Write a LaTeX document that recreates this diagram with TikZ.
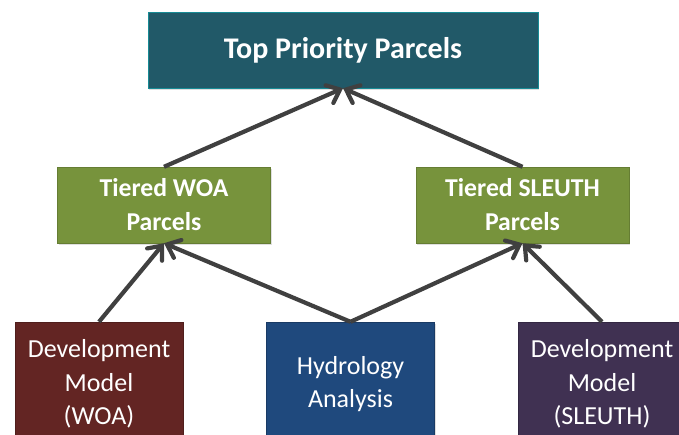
\documentclass[tikz,border=0pt]{standalone}
\usepackage{fontspec}
\setmainfont{Carlito}
\usepackage{tikz}
\usetikzlibrary{
  arrows.meta,
  shadows
}
\usepackage{xcolor}
\definecolor{fillTop}{RGB}{33, 89, 104}
\definecolor{fillTier}{RGB}{119, 147, 60}
\definecolor{fillDevW}{RGB}{99, 37, 35}
\definecolor{fillHydro}{RGB}{31, 73, 125}
\definecolor{fillDevS}{RGB}{64, 49, 82}
\definecolor{arrowclr}{RGB}{64, 64, 64}
\tikzset{
  % Boxes
  boxbase/.style   = {rectangle, text=white, align=center, inner sep=0pt,
                      drop shadow={shadow xshift=1pt, shadow yshift=-1.5pt, opacity=0.25}},
  topbox/.style    = {boxbase, fill=fillTop, draw=fillTop!70!cyan, thin,
                      minimum width=390pt, minimum height=76pt,
                      font=\fontsize{30}{34}\selectfont\bfseries},
  tierbox/.style   = {boxbase, fill=fillTier, draw=fillTier!85!black, thin,
                      minimum width=213pt, minimum height=76pt,
                      font=\fontsize{25.7}{34}\selectfont\bfseries},
  srcbox/.style    = {boxbase, thin, minimum width=168pt, minimum height=124pt,
                      font=\fontsize{26}{33.5}\selectfont},
  % Connectors
  feed/.style      = {-{Straight Barb[angle=80:15pt, line cap=round]}, line width=4.2pt,
                      draw=arrowclr},
}

\begin{document}
\begin{tikzpicture}[x=1pt, y=-1pt]
  \useasboundingbox (0,0) rectangle (679,434);
  \clip (0,0) rectangle (679,434);
  % Boxes
  \node[topbox] (top) at (343,50) {Top Priority Parcels};
  \node[tierbox] (tierWOA) at (164,205) {Tiered WOA\\Parcels};
  \node[tierbox] (tierSLEUTH) at (522.5,205) {Tiered SLEUTH\\Parcels};
  \node[srcbox, fill=fillDevW, draw=fillDevW!80!black] (devWOA) at (99,384)
    {Development\\Model\\(WOA)};
  \node[srcbox, fill=fillHydro, draw=fillHydro!80!black] (hydro) at (350.5,384)
    {Hydrology\\Analysis};
  \node[srcbox, fill=fillDevS, draw=fillDevS!80!black] (devSLEUTH) at (602,384)
    {Development\\Model\\(SLEUTH)};
  % Connectors
  \draw[feed] (devWOA.north) -- (tierWOA.south);
  \draw[feed] (hydro.north) -- (tierWOA.south);
  \draw[feed] (hydro.north) -- (tierSLEUTH.south);
  \draw[feed] (devSLEUTH.north) -- (tierSLEUTH.south);
  \draw[feed] (tierWOA.north) -- (top.south);
  \draw[feed] (tierSLEUTH.north) -- (top.south);
\end{tikzpicture}
\end{document}
